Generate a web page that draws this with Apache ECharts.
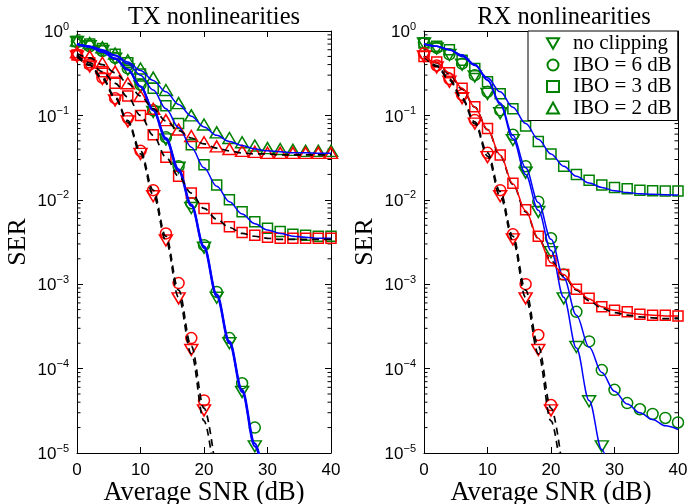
<!DOCTYPE html>
<html>
<head>
<meta charset="UTF-8">
<title>SER vs SNR</title>
<script src="https://cdn.jsdelivr.net/npm/echarts@6/dist/echarts.min.js"></script>
<style>
  html, body { margin: 0; padding: 0; background: #fff; }
  #chart { width: 688px; height: 504px; }
</style>
</head>
<body>
<div id="chart"></div>
<script>
// SNR grid (dB), every point is 2 dB apart
const snrDb = [0, 2, 4, 6, 8, 10, 12, 14, 16, 18, 20, 22, 24, 26, 28, 30, 32, 34, 36, 38, 40];

// ---- TX nonlinearities: simulated points ----
const txGreenNoClip = [0.74, 0.66, 0.58, 0.47, 0.35, 0.22, 0.11, 0.052, 0.024, 0.008, 0.0027, 6.9e-4, 2.0e-4, 5.3e-5, 1.2e-5];
const txGreenIbo6   = [0.74, 0.66, 0.58, 0.48, 0.36, 0.23, 0.115, 0.055, 0.025, 0.0091, 0.0029, 8.1e-4, 2.3e-4, 6.7e-5, 2.0e-5];
const txGreenIbo3   = [0.75, 0.70, 0.62, 0.53, 0.42, 0.31, 0.21, 0.13, 0.08, 0.045, 0.026, 0.015, 0.010, 0.0072, 0.0055, 0.0046, 0.0042, 0.0039, 0.0038, 0.0037, 0.0037];
const txGreenIbo2   = [0.77, 0.72, 0.64, 0.54, 0.45, 0.36, 0.28, 0.20, 0.14, 0.10, 0.078, 0.063, 0.054, 0.048, 0.044, 0.041, 0.040, 0.039, 0.038, 0.038, 0.038];
const txRedNoClip   = [0.50, 0.38, 0.27, 0.15, 0.085, 0.035, 0.011, 0.0033, 6.8e-4, 1.66e-4, 3.2e-5];
const txRedIbo6     = [0.52, 0.40, 0.28, 0.16, 0.093, 0.038, 0.013, 0.004, 1.03e-3, 2.3e-4, 4.2e-5];
const txRedIbo3     = [0.52, 0.42, 0.33, 0.24, 0.17, 0.10, 0.059, 0.032, 0.019, 0.012, 0.0079, 0.006, 0.0048, 0.0041, 0.0038, 0.0036, 0.0035, 0.0035, 0.0035, 0.0035, 0.0035];
const txRedIbo2     = [0.56, 0.50, 0.42, 0.33, 0.24, 0.17, 0.12, 0.088, 0.068, 0.057, 0.048, 0.043, 0.040, 0.038, 0.037, 0.036, 0.036, 0.036, 0.036, 0.036, 0.036];

// ---- TX nonlinearities: analytical curves ----
const txBlueNoClip = [0.70, 0.65, 0.57, 0.47, 0.35, 0.22, 0.115, 0.052, 0.022, 0.0085, 0.0027, 7.2e-4, 2.0e-4, 5.3e-5, 1.2e-5, 2.5e-6];
const txBlueIbo6   = [0.70, 0.65, 0.57, 0.47, 0.35, 0.22, 0.117, 0.054, 0.023, 0.0088, 0.0028, 7.6e-4, 2.1e-4, 5.6e-5, 1.3e-5, 2.7e-6];
const txBlueIbo3   = [0.70, 0.66, 0.59, 0.51, 0.41, 0.30, 0.20, 0.12, 0.072, 0.042, 0.024, 0.0145, 0.0095, 0.0068, 0.0052, 0.0044, 0.0040, 0.0037, 0.0036, 0.0035, 0.0035];
const txBlueIbo2   = [0.70, 0.66, 0.60, 0.52, 0.43, 0.34, 0.26, 0.19, 0.135, 0.098, 0.073, 0.058, 0.049, 0.044, 0.040, 0.038, 0.037, 0.036, 0.036, 0.0355, 0.0355];
const txDashNoClip = [0.50, 0.39, 0.27, 0.16, 0.083, 0.035, 0.0115, 0.0033, 7.0e-4, 1.5e-4, 2.4e-5, 3e-6];
const txDashIbo6   = [0.51, 0.40, 0.28, 0.165, 0.087, 0.038, 0.013, 0.0037, 8.5e-4, 1.85e-4, 3.4e-5, 5e-6];
const txDashIbo3   = [0.52, 0.42, 0.33, 0.24, 0.165, 0.10, 0.058, 0.032, 0.019, 0.012, 0.0079, 0.0059, 0.0047, 0.0040, 0.0037, 0.0035, 0.0034, 0.0034, 0.0034, 0.0034, 0.0034];
const txDashIbo2   = [0.54, 0.48, 0.40, 0.32, 0.24, 0.17, 0.12, 0.086, 0.066, 0.054, 0.046, 0.041, 0.038, 0.036, 0.035, 0.035, 0.034, 0.034, 0.034, 0.034, 0.034];

// ---- RX nonlinearities: simulated points ----
const rxGreenNoClip = [0.71, 0.62, 0.52, 0.40, 0.29, 0.18, 0.106, 0.051, 0.021, 0.0072, 0.0024, 6.8e-4, 1.8e-4, 4.1e-5, 1.2e-5];
const rxGreenIbo6   = [0.72, 0.63, 0.53, 0.41, 0.30, 0.19, 0.115, 0.059, 0.025, 0.0095, 0.0035, 0.0013, 4.7e-4, 2.1e-4, 9.6e-5, 5.6e-5, 3.9e-5, 3.3e-5, 2.9e-5, 2.6e-5, 2.3e-5];
const rxGreenIbo3   = [0.72, 0.66, 0.60, 0.45, 0.36, 0.25, 0.18, 0.12, 0.075, 0.049, 0.035, 0.025, 0.020, 0.017, 0.015, 0.014, 0.0135, 0.013, 0.0128, 0.0127, 0.0127];
const rxRedNoClip   = [0.50, 0.37, 0.25, 0.16, 0.08, 0.032, 0.011, 0.0034, 6.8e-4, 1.66e-4, 3.2e-5];
const rxRedIbo6     = [0.54, 0.39, 0.27, 0.175, 0.088, 0.036, 0.013, 0.0039, 1.0e-3, 2.5e-4, 3.7e-5];
const rxRedIbo3     = [0.50, 0.43, 0.32, 0.21, 0.127, 0.070, 0.034, 0.0157, 0.0076, 0.0037, 0.0019, 0.0013, 8.7e-4, 6.8e-4, 5.4e-4, 4.9e-4, 4.7e-4, 4.4e-4, 4.3e-4, 4.3e-4, 4.2e-4];

// ---- RX nonlinearities: analytical curves ----
const rxBlueNoClip = [0.70, 0.66, 0.60, 0.52, 0.40, 0.26, 0.135, 0.053, 0.02, 0.0075, 0.0025, 7.0e-4, 1.75e-4, 4.2e-5, 1.1e-5, 2.5e-6];
const rxBlueIbo6   = [0.70, 0.66, 0.60, 0.52, 0.40, 0.265, 0.14, 0.058, 0.024, 0.0093, 0.0034, 0.0012, 4.3e-4, 1.8e-4, 9.0e-5, 5.4e-5, 3.8e-5, 3.0e-5, 2.5e-5, 2.1e-5, 1.9e-5];
const rxBlueIbo3   = [0.70, 0.66, 0.60, 0.50, 0.39, 0.28, 0.19, 0.125, 0.08, 0.052, 0.035, 0.025, 0.019, 0.0158, 0.014, 0.0128, 0.0122, 0.0118, 0.0116, 0.0115, 0.0114];
const rxDashNoClip = [0.50, 0.38, 0.26, 0.155, 0.08, 0.033, 0.011, 0.0033, 7.0e-4, 1.5e-4, 2.4e-5, 3e-6];
const rxDashIbo6   = [0.51, 0.39, 0.27, 0.16, 0.084, 0.036, 0.0125, 0.0037, 8.5e-4, 1.85e-4, 3.4e-5, 5e-6];
const rxDashIbo3   = [0.50, 0.42, 0.31, 0.205, 0.125, 0.068, 0.033, 0.0152, 0.0072, 0.0035, 0.0019, 0.00125, 8.5e-4, 6.4e-4, 5.2e-4, 4.6e-4, 4.3e-4, 4.1e-4, 4.0e-4, 3.9e-4, 3.9e-4];
const rxRedLineIbo3 = [0.50, 0.42, 0.32, 0.21, 0.125, 0.068, 0.034, 0.0155, 0.0074, 0.0035, 0.0018, 0.0013, 8.7e-4, 6.7e-4, 5.4e-4, 4.9e-4, 4.6e-4, 4.4e-4, 4.3e-4, 4.2e-4, 4.2e-4];

const legendNames = ['no clipping', 'IBO = 6 dB', 'IBO = 3 dB', 'IBO = 2 dB'];
const xTicks = [0, 10, 20, 30, 40];
const minorMult = [2, 3, 4, 5, 6, 7, 8, 9];
const decades = [1e-5, 1e-4, 1e-3, 1e-2, 1e-1];

const GREEN = '#008000', RED = '#ff0000', BLUE = '#0000ff';
const SERIF = 'Liberation Serif', SANS = 'Liberation Sans';

const SYM = {
  down: 'path://M0,0L20,0L10,17.3Z',
  circle: 'circle',
  square: 'rect',
  up: 'triangle'
};
const SYM_SIZE = { down: [13, 11], circle: 11, square: 10, up: [13, 11] };

const minorTickVals = [];
decades.forEach(d => minorMult.forEach(m => minorTickVals.push(d * m)));

const pts = vals => vals.map((v, i) => [snrDb[i], v]);

function markers(name, g, vals, sym, color) {
  return {
    name: name, type: 'scatter', xAxisIndex: g * 2, yAxisIndex: g * 2,
    data: pts(vals), symbol: SYM[sym], symbolSize: SYM_SIZE[sym],
    itemStyle: { color: 'rgba(0,0,0,0)', borderColor: color, borderWidth: 1.5, opacity: 1 },
    z: 2, silent: true
  };
}

function curve(name, g, vals, color, dashed, width) {
  return {
    name: name, type: 'line', xAxisIndex: g * 2, yAxisIndex: g * 2,
    data: pts(vals), showSymbol: false, smooth: 0.35, smoothMonotone: 'x',
    clip: true, silent: true, z: 3,
    lineStyle: { color: color, width: width || 1.5, type: dashed ? [7, 5] : 'solid' }
  };
}

function minorTicks(g) {
  return {
    type: 'custom', xAxisIndex: g * 2, yAxisIndex: g * 2, silent: true, z: 1,
    data: minorTickVals.map(v => [0, v]),
    renderItem: (params, api) => {
      const v = api.value(1);
      const l = api.coord([0, v]);
      const r = api.coord([40, v]);
      return {
        type: 'group', children: [
          { type: 'line', shape: { x1: l[0], y1: l[1], x2: l[0] + 3.5, y2: l[1] }, style: { stroke: '#000', lineWidth: 1 } },
          { type: 'line', shape: { x1: r[0] - 3.5, y1: r[1], x2: r[0], y2: r[1] }, style: { stroke: '#000', lineWidth: 1 } }
        ]
      };
    }
  };
}

const supLabel = v => {
  const e = Math.round(Math.log10(v));
  return '{b|10}{s|' + (e < 0 ? '\u2212' + (-e) : e) + '}';
};

function xAxes(g) {
  const base = {
    type: 'value', gridIndex: g, min: xTicks[0], max: xTicks[xTicks.length - 1], interval: 10,
    splitLine: { show: false },
    axisLine: { show: true, onZero: false, lineStyle: { color: '#000', width: 1 } },
    axisTick: { show: true, inside: true, length: 6, lineStyle: { color: '#000' } }
  };
  return [
    Object.assign({}, base, {
      position: 'bottom',
      name: 'Average SNR (dB)', nameLocation: 'middle', nameGap: 27, nameMoveOverlap: false,
      nameTextStyle: { fontFamily: SERIF, fontSize: 26.5, color: '#000' },
      axisLabel: { margin: 9, fontFamily: SANS, fontSize: 17, color: '#000' }
    }),
    Object.assign({}, base, { position: 'top', axisLabel: { show: false } })
  ];
}

function yAxes(g) {
  const base = {
    type: 'log', logBase: 10, gridIndex: g, min: 1e-5, max: 1,
    splitLine: { show: false }, minorTick: { show: false },
    axisLine: { show: true, onZero: false, lineStyle: { color: '#000', width: 1 } },
    axisTick: { show: true, inside: true, length: 6, lineStyle: { color: '#000' } }
  };
  return [
    Object.assign({}, base, {
      position: 'left',
      name: 'SER', nameLocation: 'middle', nameGap: 46, nameRotate: 90,
      nameTextStyle: { fontFamily: SERIF, fontSize: 26, color: '#000' },
      axisLabel: {
        margin: 8, formatter: supLabel,
        rich: {
          b: { fontFamily: SANS, fontSize: 17, color: '#000', verticalAlign: 'bottom' },
          s: { fontFamily: SANS, fontSize: 11, color: '#000', verticalAlign: 'bottom', padding: [0, 0, 9, 0] }
        }
      }
    }),
    Object.assign({}, base, { position: 'right', axisLabel: { show: false } })
  ];
}

const titleStyle = { fontFamily: SERIF, fontSize: 24.5, fontWeight: 'normal', color: '#000' };

const chart = echarts.init(document.getElementById('chart'));
chart.setOption({
  animation: false,
  backgroundColor: '#fff',
  title: [
    { text: 'TX nonlinearities', left: 209, top: 0, textAlign: 'center', textStyle: titleStyle },
    { text: 'RX nonlinearities', left: 559, top: 0, textAlign: 'center', textStyle: titleStyle }
  ],
  legend: {
    data: legendNames, orient: 'vertical', left: 528, top: 31,
    backgroundColor: '#fff', borderColor: '#000', borderWidth: 1, borderRadius: 0,
    padding: [2, 6, 2, 18], itemWidth: 12, itemHeight: 11, itemGap: 0.5,
    selectedMode: false, z: 10,
    textStyle: { fontFamily: SERIF, fontSize: 21, color: '#000', padding: [0, 0, 0, 9] }
  },
  grid: [
    { left: 77, top: 31, width: 254, height: 422, outerBoundsMode: 'none', containLabel: false },
    { left: 424, top: 31, width: 254, height: 422, outerBoundsMode: 'none', containLabel: false }
  ],
  xAxis: xAxes(0).concat(xAxes(1)),
  yAxis: yAxes(0).concat(yAxes(1)),
  series: [
    minorTicks(0), minorTicks(1),
    // TX markers
    markers('no clipping', 0, txGreenNoClip, 'down', GREEN),
    markers('IBO = 6 dB', 0, txGreenIbo6, 'circle', GREEN),
    markers('IBO = 3 dB', 0, txGreenIbo3, 'square', GREEN),
    markers('IBO = 2 dB', 0, txGreenIbo2, 'up', GREEN),
    markers('tx red no clip', 0, txRedNoClip, 'down', RED),
    markers('tx red 6', 0, txRedIbo6, 'circle', RED),
    markers('tx red 3', 0, txRedIbo3, 'square', RED),
    markers('tx red 2', 0, txRedIbo2, 'up', RED),
    // TX curves
    curve('tx blue no clip', 0, txBlueNoClip, BLUE, false, 2.2),
    curve('tx blue 6', 0, txBlueIbo6, BLUE, false, 2.2),
    curve('tx blue 3', 0, txBlueIbo3, BLUE, false),
    curve('tx blue 2', 0, txBlueIbo2, BLUE, false),
    curve('tx dash no clip', 0, txDashNoClip, '#000', true, 1.7),
    curve('tx dash 6', 0, txDashIbo6, '#000', true, 1.7),
    curve('tx dash 3', 0, txDashIbo3, '#000', true, 1.7),
    curve('tx dash 2', 0, txDashIbo2, '#000', true, 1.7),
    // RX markers
    markers('no clipping', 1, rxGreenNoClip, 'down', GREEN),
    markers('IBO = 6 dB', 1, rxGreenIbo6, 'circle', GREEN),
    markers('IBO = 3 dB', 1, rxGreenIbo3, 'square', GREEN),
    markers('rx red no clip', 1, rxRedNoClip, 'down', RED),
    markers('rx red 6', 1, rxRedIbo6, 'circle', RED),
    markers('rx red 3', 1, rxRedIbo3, 'square', RED),
    // RX curves
    curve('rx blue no clip', 1, rxBlueNoClip, BLUE, false),
    curve('rx blue 6', 1, rxBlueIbo6, BLUE, false),
    curve('rx blue 3', 1, rxBlueIbo3, BLUE, false),
    curve('rx dash no clip', 1, rxDashNoClip, '#000', true, 1.7),
    curve('rx dash 6', 1, rxDashIbo6, '#000', true, 1.7),
    curve('rx dash 3', 1, rxDashIbo3, '#000', true, 1.7),
    curve('rx red line 3', 1, rxRedLineIbo3, RED, false)
  ]
});
</script>
</body>
</html>
